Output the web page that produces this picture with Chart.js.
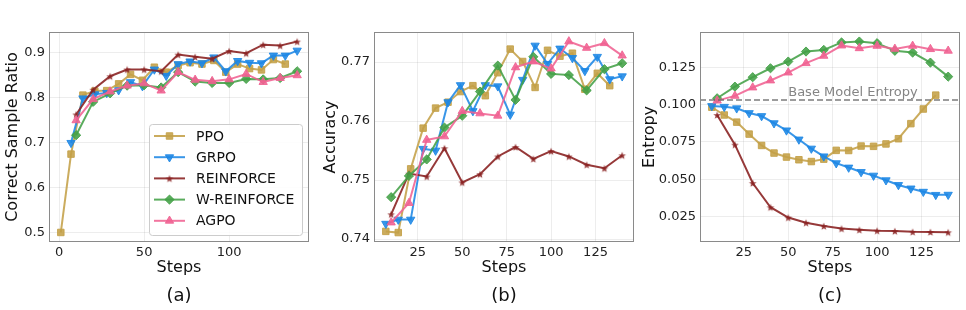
<!DOCTYPE html>
<html>
<head>
<meta charset="utf-8">
<script src="https://cdn.jsdelivr.net/npm/chart.js@4.4.0/dist/chart.umd.min.js"></script>
<style>
  body { margin: 0; background: #fff; width: 966px; height: 310px; overflow: hidden; position: relative; font-family: "DejaVu Sans", sans-serif; }
  canvas { position: absolute; top: 0; }
  .cap { position: absolute; top: 285px; font-size: 18px; line-height: 20px; color: #111; transform: translateX(-50%); }
</style>
</head>
<body>
<canvas id="ca" width="320" height="285" style="left:0"></canvas>
<canvas id="cb" width="320" height="285" style="left:320px"></canvas>
<canvas id="cc" width="326" height="285" style="left:640px"></canvas>
<div class="cap" style="left:179px">(a)</div>
<div class="cap" style="left:504px">(b)</div>
<div class="cap" style="left:830px">(c)</div>
<script>
// x positions (training steps)
const ppoStepsA = [1, 7, 14, 21, 28, 35, 42, 49, 56, 63, 70, 77, 84, 91, 98, 105, 112, 119, 126, 133];
const ppoSteps = [7, 14, 21, 28, 35, 42, 49, 56, 63, 70, 77, 84, 91, 98, 105, 112, 119, 126, 133];
const grpoSteps = [7, 14, 21, 28, 35, 42, 49, 56, 63, 70, 77, 84, 91, 98, 105, 112, 119, 126, 133, 140];
const rfSteps = [10, 20, 30, 40, 50, 60, 70, 80, 90, 100, 110, 120, 130, 140];

// (a) correct sample ratio
const ppoA = [0.500, 0.674, 0.805, 0.814, 0.815, 0.830, 0.851, 0.838, 0.867, 0.856, 0.871, 0.877, 0.874, 0.882, 0.856, 0.874, 0.864, 0.861, 0.884, 0.874];
const grpoA = [0.699, 0.798, 0.807, 0.810, 0.816, 0.834, 0.825, 0.862, 0.848, 0.874, 0.880, 0.876, 0.889, 0.858, 0.881, 0.877, 0.876, 0.893, 0.893, 0.904];
const reinA = [0.762, 0.817, 0.847, 0.862, 0.862, 0.858, 0.895, 0.890, 0.886, 0.903, 0.898, 0.917, 0.915, 0.924];
const wreinA = [0.716, 0.790, 0.809, 0.826, 0.827, 0.822, 0.856, 0.835, 0.832, 0.832, 0.841, 0.840, 0.843, 0.858];
const agpoA = [0.749, 0.796, 0.813, 0.826, 0.831, 0.815, 0.856, 0.839, 0.836, 0.840, 0.852, 0.834, 0.843, 0.849];

// (b) accuracy
const ppoB = [0.7413, 0.7411, 0.7519, 0.7588, 0.7622, 0.7632, 0.7650, 0.7660, 0.7643, 0.7682, 0.7722, 0.7701, 0.7657, 0.7720, 0.7710, 0.7715, 0.7654, 0.7681, 0.7660];
const grpoB = [0.7426, 0.7433, 0.7433, 0.7553, 0.7550, 0.7632, 0.7661, 0.7617, 0.7661, 0.7659, 0.7611, 0.7670, 0.7728, 0.7697, 0.7723, 0.7707, 0.7685, 0.7709, 0.7671, 0.7676];
const reinB = [0.7442, 0.7511, 0.7506, 0.7554, 0.7496, 0.7510, 0.7540, 0.7556, 0.7536, 0.7549, 0.7540, 0.7526, 0.7520, 0.7542];
const wreinB = [0.7471, 0.7507, 0.7535, 0.7589, 0.7609, 0.7650, 0.7694, 0.7636, 0.7709, 0.7680, 0.7678, 0.7652, 0.7688, 0.7698];
const agpoB = [0.7428, 0.7461, 0.7568, 0.7574, 0.7617, 0.7613, 0.7609, 0.7691, 0.7701, 0.7689, 0.7735, 0.7724, 0.7732, 0.7711];

// (c) entropy
const ppoC = [0.0982, 0.0930, 0.0882, 0.0802, 0.0726, 0.0675, 0.0648, 0.0630, 0.0618, 0.0634, 0.0693, 0.0692, 0.0722, 0.0720, 0.0736, 0.0771, 0.0872, 0.0970, 0.1063];
const grpoC = [0.0990, 0.0985, 0.0975, 0.0943, 0.0923, 0.0875, 0.0827, 0.0766, 0.0705, 0.0653, 0.0607, 0.0578, 0.0548, 0.0524, 0.0493, 0.0461, 0.0438, 0.0416, 0.0395, 0.0396];
const reinC = [0.0930, 0.0731, 0.0474, 0.0312, 0.0243, 0.0208, 0.0186, 0.0169, 0.0161, 0.0155, 0.0152, 0.0147, 0.0146, 0.0144];
const wreinC = [0.1042, 0.1120, 0.1183, 0.1243, 0.1288, 0.1355, 0.1366, 0.1416, 0.1422, 0.1411, 0.1360, 0.1348, 0.1281, 0.1187];
const agpoC = [0.1026, 0.1058, 0.1114, 0.1161, 0.1214, 0.1277, 0.1326, 0.1395, 0.1377, 0.1393, 0.1373, 0.1393, 0.1371, 0.1360];
const baseEntropy = 0.103;

const names = ["PPO", "GRPO", "REINFORCE", "W-REINFORCE", "AGPO"];

const FONT = "'DejaVu Sans', sans-serif";

function starImg(color, r) {
  const c = document.createElement("canvas");
  const s = Math.ceil(r * 2 + 2);
  c.width = s; c.height = s;
  const g = c.getContext("2d");
  g.translate(s / 2, s / 2 + 0.5);
  g.beginPath();
  for (let i = 0; i < 10; i++) {
    const rr = i % 2 ? r * 0.42 : r;
    const a = -Math.PI / 2 + i * Math.PI / 5;
    g.lineTo(rr * Math.cos(a), rr * Math.sin(a));
  }
  g.closePath();
  g.fillStyle = color;
  g.fill();
  return c;
}

const styles = [
  { color: "rgba(196,160,72,0.88)", pointStyle: "rect", radius: 4.6, rotation: 0 },
  { color: "rgba(30,136,229,0.88)", pointStyle: "triangle", radius: 4.8, rotation: 180 },
  { color: "rgba(139,35,35,0.9)", pointStyle: starImg("rgba(139,35,35,0.9)", 4), radius: 4, rotation: 0 },
  { color: "rgba(67,160,71,0.88)", pointStyle: "rectRot", radius: 4.6, rotation: 0 },
  { color: "rgba(240,98,146,0.88)", pointStyle: "triangle", radius: 4.8, rotation: 0 },
];

function pts(xs, ys) {
  return xs.map((x, i) => ({ x: x, y: ys[i] }));
}

function series(i, xs, ys) {
  const s = styles[i];
  return {
    label: names[i],
    data: pts(xs, ys),
    borderColor: s.color,
    backgroundColor: s.color,
    borderWidth: 2,
    pointStyle: s.pointStyle,
    pointRotation: s.rotation,
    pointRadius: s.radius,
    pointBorderWidth: 1,
    pointBorderColor: s.color,
    pointBackgroundColor: s.color,
    tension: 0,
    order: 5 - i,
  };
}

const framePlugin = {
  id: "frame",
  afterDatasetsDraw(chart) {
    const a = chart.chartArea;
    const ctx = chart.ctx;
    ctx.save();
    ctx.strokeStyle = "#8a8a8a";
    ctx.lineWidth = 1;
    ctx.strokeRect(Math.round(a.left) + 0.5, Math.round(a.top) + 0.5, Math.round(a.right - a.left) - 1, Math.round(a.bottom - a.top) - 1);
    ctx.restore();
  },
};

const legendPlugin = {
  id: "boxLegend",
  afterDraw(chart) {
    const ctx = chart.ctx;
    const x0 = 149, y0 = 124, w = 153, h = 111;
    ctx.save();
    ctx.fillStyle = "rgba(255,255,255,0.85)";
    ctx.strokeStyle = "#cccccc";
    ctx.lineWidth = 1;
    ctx.beginPath();
    ctx.roundRect(x0 + 0.5, y0 + 0.5, w, h, 3);
    ctx.fill();
    ctx.stroke();
    ctx.font = "14px " + FONT;
    ctx.textBaseline = "middle";
    chart.data.datasets.forEach((ds, i) => {
      const y = 136 + i * 21.2;
      ctx.strokeStyle = ds.borderColor;
      ctx.lineWidth = 2;
      ctx.beginPath();
      ctx.moveTo(154, y);
      ctx.lineTo(185, y);
      ctx.stroke();
      ctx.fillStyle = ds.backgroundColor;
      ctx.strokeStyle = ds.borderColor;
      ctx.lineWidth = 1;
      Chart.helpers.drawPoint(ctx, { pointStyle: ds.pointStyle, rotation: ds.pointRotation, radius: ds.pointRadius, borderWidth: 1 }, 169.5, y);
      ctx.fillStyle = "#111";
      ctx.fillText(ds.label, 196, y + 1);
    });
    ctx.restore();
  },
};

const basePlugin = {
  id: "baseLabel",
  afterDatasetsDraw(chart) {
    const ctx = chart.ctx;
    const xs = chart.scales.x, ys = chart.scales.y;
    ctx.save();
    ctx.font = "13px " + FONT;
    ctx.fillStyle = "rgba(110,110,110,0.85)";
    ctx.textBaseline = "alphabetic";
    ctx.fillText("Base Model Entropy", xs.getPixelForValue(50), ys.getPixelForValue(baseEntropy) - 4);
    ctx.restore();
  },
};

function makeChart(id, opt) {
  return new Chart(document.getElementById(id), {
    type: "line",
    data: { datasets: opt.datasets },
    options: {
      responsive: false,
      animation: false,
      layout: { padding: { top: 32, right: opt.padRight, bottom: 0, left: 0 } },
      plugins: { legend: { display: false }, tooltip: { enabled: false } },
      scales: {
        x: {
          type: "linear",
          min: opt.xMin,
          max: opt.xMax,
          afterBuildTicks: (s) => { s.ticks = opt.xTicks.map((v) => ({ value: v })); },
          afterFit: (s) => { s.height = 43; },
          grid: { color: "rgba(0,0,0,0.07)", drawTicks: false },
          border: { display: false },
          ticks: { padding: 3, color: "#222", font: { family: FONT, size: 13 }, maxRotation: 0 },
          title: { display: true, text: "Steps", color: "#111", font: { family: FONT, size: 16 }, padding: { top: 0, bottom: 8 } },
        },
        y: {
          min: opt.yMin,
          max: opt.yMax,
          afterBuildTicks: (s) => { s.ticks = opt.yTicks.map((v) => ({ value: v })); },
          afterFit: (s) => { s.width = opt.yWidth; },
          grid: { color: "rgba(0,0,0,0.07)", drawTicks: false },
          border: { display: false },
          ticks: { padding: 4, color: "#222", font: { family: FONT, size: 13 }, callback: (v) => Number(v).toFixed(opt.dec) },
          title: { display: true, text: opt.yTitle, color: "#111", font: { family: FONT, size: 16 }, padding: { top: opt.yTitlePad, bottom: 0 } },
        },
      },
    },
    plugins: opt.plugins,
  });
}

makeChart("ca", {
  datasets: [series(0, ppoStepsA, ppoA), series(1, grpoSteps, grpoA), series(2, rfSteps, reinA), series(3, rfSteps, wreinA), series(4, rfSteps, agpoA)],
  xMin: -5.95, xMax: 146.95, xTicks: [0, 50, 100],
  yMin: 0.4788, yMax: 0.9452, yTicks: [0.5, 0.6, 0.7, 0.8, 0.9], dec: 1,
  yWidth: 49, padRight: 11, yTitle: "Correct Sample Ratio", yTitlePad: 3,
  plugins: [framePlugin, legendPlugin],
});

makeChart("cb", {
  datasets: [series(0, ppoSteps, ppoB), series(1, grpoSteps, grpoB), series(2, rfSteps, reinB), series(3, rfSteps, wreinB), series(4, rfSteps, agpoB)],
  xMin: 0.35, xMax: 146.65, xTicks: [25, 50, 75, 100, 125],
  yMin: 0.7395, yMax: 0.7751, yTicks: [0.74, 0.75, 0.76, 0.77], dec: 2,
  yWidth: 54, padRight: 6, yTitle: "Accuracy", yTitlePad: 1,
  plugins: [framePlugin],
});

const baseLine = {
  label: "Base Model Entropy",
  data: [{ x: 0.35, y: baseEntropy }, { x: 146.65, y: baseEntropy }],
  borderColor: "rgba(100,100,100,0.85)",
  borderWidth: 1.6,
  borderDash: [6, 3],
  pointRadius: 0,
  order: 0,
};

makeChart("cc", {
  datasets: [series(0, ppoSteps, ppoC), series(1, grpoSteps, grpoC), series(2, rfSteps, reinC), series(3, rfSteps, wreinC), series(4, rfSteps, agpoC), baseLine],
  xMin: 0.35, xMax: 146.65, xTicks: [25, 50, 75, 100, 125],
  yMin: 0.0079, yMax: 0.1486, yTicks: [0.025, 0.05, 0.075, 0.1, 0.125], dec: 3,
  yWidth: 60, padRight: 6, yTitle: "Entropy", yTitlePad: 0,
  plugins: [framePlugin, basePlugin],
});
</script>
</body>
</html>
